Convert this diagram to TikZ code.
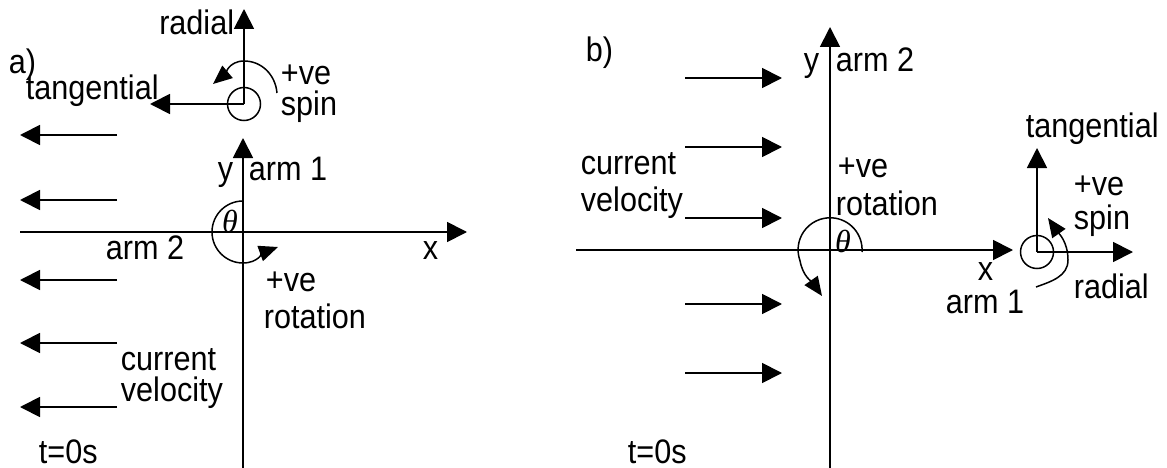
\documentclass[tikz,border=0pt]{standalone}
\usepackage{fontspec}
\setmainfont{Liberation Sans}[FakeStretch=0.9]
\newfontfamily\thetafont{Liberation Serif}
\usetikzlibrary{arrows.meta}
\begin{document}
\begin{tikzpicture}[x=1pt,y=-1pt,
  line width=1.8pt,
  ar/.style={-{Triangle[length=20pt,width=20pt]}},
  sar/.style={-{Triangle[length=19pt,width=16pt]}},
  curve/.style={line width=1.5pt},
  lbl/.style={inner sep=0pt, anchor=base west, font=\fontsize{34}{40}\selectfont},
  lble/.style={lbl, anchor=base east},
  th/.style={inner sep=0pt, font=\fontsize{32}{38}\selectfont\thetafont\itshape},
  spinc/.style={circle, draw, line width=1.5pt, minimum size=33pt, inner sep=0pt}]
\useasboundingbox (0,0) rectangle (1167,468);

% ---------------- panel a ----------------
\coordinate (aYtop) at (243,138);
\coordinate (aYbot) at (243,468);
\coordinate (aXl) at (20,232);
\coordinate (aXr) at (467,232);
\draw[ar] (aYbot) -- (aYtop);
\draw[ar] (aXl) -- (aXr);

\foreach \i/\yy in {1/135,2/200,3/280,4/343,5/407}{
  \coordinate (acs\i) at (117,\yy);
  \coordinate (ace\i) at (20,\yy);
  \draw[ar] (acs\i) -- (ace\i);
}

\node[spinc] (aspin) at (244,104) {};
\coordinate (arad) at (244,9);
\coordinate (atan) at (150,104);
\draw[ar] (aspin.center) -- (arad);
\draw[ar] (aspin.center) -- (atan);
\coordinate (asc1) at (277,93);
\coordinate (asc2) at (244,61);
\coordinate (asc3) at (213,84);
\draw[curve,sar] (asc1) to[out=95,in=0] (asc2) to[out=180,in=40] (asc3);

\coordinate (athS) at (243,201);
\coordinate (athE) at (278,247);
\draw[curve,sar] (athS) arc[start angle=-90,end angle=-270,radius=31] to[out=0,in=-160] (athE);

\node[lble] (a-radial) at (235,35) {radial};
\node[lbl] (a-lab) at (8,74) {a)};
\node[lbl] (a-tang) at (25,100) {tangential};
\node[lbl] (a-ve1) at (280,85) {+ve};
\node[lbl] (a-spinl) at (280,116) {spin};
\node[lbl] (a-y) at (217,180) {y};
\node[lbl] (a-arm1) at (248,180) {arm 1};
\node[th] (a-theta) at (230,221) {θ};
\node[lbl] (a-arm2) at (105,259) {arm 2};
\node[lbl] (a-x) at (422,259) {x};
\node[lbl] (a-ve2) at (265,291) {+ve};
\node[lbl] (a-rot) at (263,328) {rotation};
\node[lbl] (a-cur) at (120,370) {current};
\node[lbl] (a-vel) at (120,401) {velocity};
\node[lbl] (a-t) at (38,463) {t=0s};

% ---------------- panel b ----------------
\coordinate (bYtop) at (830,27);
\coordinate (bYbot) at (830,468);
\coordinate (bXl) at (576,250);
\coordinate (bXr) at (1013,250);
\draw[ar] (bYbot) -- (bYtop);
\draw[ar] (bXl) -- (bXr);

\foreach \i/\yy in {1/78,2/147,3/218,4/304,5/373}{
  \coordinate (bcs\i) at (685,\yy);
  \coordinate (bce\i) at (782,\yy);
  \draw[ar] (bcs\i) -- (bce\i);
}

\coordinate (bthS) at (862,252);
\coordinate (bthE) at (822,296);
\draw[curve,sar] (bthS) arc[start angle=4,end angle=-200,radius=32] to[out=-80,in=125] (bthE);

\node[spinc] (bspin) at (1037,252) {};
\coordinate (btan) at (1037,148);
\coordinate (brad) at (1133,252);
\draw[ar] (bspin.center) -- (btan);
\draw[ar] (bspin.center) -- (brad);
\coordinate (bsc1) at (1036,287);
\coordinate (bsc2) at (1068,260);
\coordinate (bsc3) at (1048,218);
\draw[curve,sar] (bsc1) to[out=20,in=-90] (bsc2) to[out=90,in=-55] (bsc3);

\node[lbl] (b-lab) at (585,62) {b)};
\node[lbl] (b-y) at (803,72) {y};
\node[lbl] (b-arm2) at (835,72) {arm 2};
\node[lbl] (b-cur) at (580,175) {current};
\node[lbl] (b-vel) at (580,211) {velocity};
\node[lbl] (b-ve1) at (837,177) {+ve};
\node[lbl] (b-rot) at (835,215) {rotation};
\node[th] (b-theta) at (843,241) {θ};
\node[lbl] (b-x) at (977,280) {x};
\node[lbl] (b-arm1) at (945,313) {arm 1};
\node[lbl] (b-tang) at (1025,138) {tangential};
\node[lbl] (b-ve2) at (1073,195) {+ve};
\node[lbl] (b-spinl) at (1073,229) {spin};
\node[lbl] (b-radial) at (1073,298) {radial};
\node[lbl] (b-t) at (627,463) {t=0s};
\end{tikzpicture}
\end{document}
